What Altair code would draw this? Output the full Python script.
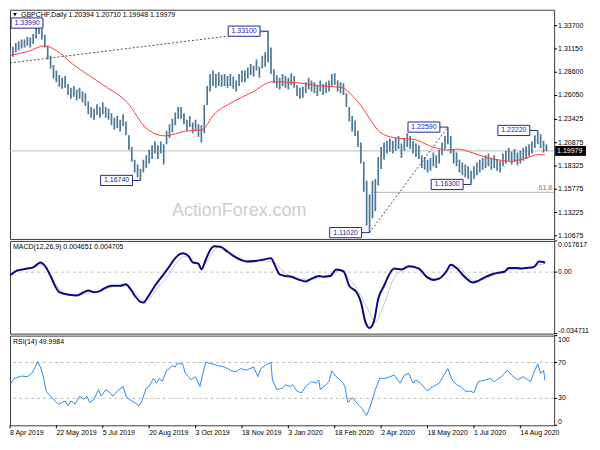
import altair as alt
import pandas as pd

# ---------------- text ----------------
symbol_title = "GBPCHF,Daily  1.20394 1.20710 1.19948 1.19979"
macd_title = "MACD(12,26,9) 0.004651 0.004705"
rsi_title = "RSI(14) 49.9984"
watermark = "ActionForex.com"

# ---------------- price data (one bar every 2 sessions) ----------------
bar_step = 2
bar_high = [
    1.312, 1.314, 1.318, 1.320, 1.322, 1.322, 1.325, 1.324, 1.328, 1.336,
    1.3399, 1.334, 1.327, 1.315, 1.304, 1.294, 1.288, 1.283, 1.280, 1.282,
    1.273, 1.269, 1.271, 1.267, 1.269, 1.265, 1.263, 1.254, 1.248, 1.246,
    1.251, 1.248, 1.253, 1.248, 1.246, 1.241, 1.236, 1.238, 1.234, 1.240,
    1.232, 1.217, 1.204, 1.190, 1.185, 1.180, 1.190, 1.195, 1.201, 1.206,
    1.210, 1.206, 1.210, 1.207, 1.222, 1.229, 1.235, 1.242, 1.248, 1.248,
    1.241, 1.234, 1.238, 1.231, 1.234, 1.229, 1.228, 1.250, 1.271, 1.284,
    1.288, 1.284, 1.286, 1.283, 1.284, 1.282, 1.284, 1.281, 1.277, 1.284,
    1.288, 1.288, 1.291, 1.295, 1.293, 1.300, 1.292, 1.304, 1.308, 1.331,
    1.313, 1.289, 1.283, 1.280, 1.284, 1.282, 1.280, 1.285, 1.282, 1.272,
    1.269, 1.270, 1.275, 1.280, 1.277, 1.275, 1.272, 1.277, 1.273, 1.275,
    1.277, 1.284, 1.285, 1.277, 1.275, 1.274, 1.263, 1.248, 1.238, 1.233,
    1.222, 1.209, 1.188, 1.167, 1.152, 1.167, 1.169, 1.193, 1.204, 1.209,
    1.211, 1.213, 1.211, 1.214, 1.216, 1.208, 1.214, 1.219, 1.216, 1.211,
    1.208, 1.206, 1.195, 1.193, 1.190, 1.192, 1.198, 1.195, 1.201, 1.209,
    1.216, 1.2259, 1.216, 1.202, 1.198, 1.190, 1.187, 1.185, 1.183, 1.178,
    1.183, 1.187, 1.190, 1.192, 1.195, 1.197, 1.192, 1.195, 1.191, 1.189,
    1.197, 1.200, 1.203, 1.199, 1.202, 1.198, 1.200, 1.203, 1.205, 1.207,
    1.210, 1.217, 1.2222, 1.218, 1.211, 1.2071,
]
bar_low = [
    1.301, 1.303, 1.308, 1.310, 1.312, 1.313, 1.315, 1.313, 1.317, 1.323,
    1.328, 1.322, 1.313, 1.300, 1.290, 1.279, 1.275, 1.270, 1.268, 1.269,
    1.261, 1.257, 1.259, 1.255, 1.257, 1.253, 1.249, 1.240, 1.236, 1.234,
    1.239, 1.236, 1.240, 1.236, 1.234, 1.228, 1.223, 1.225, 1.221, 1.227,
    1.217, 1.201, 1.188, 1.176, 1.171, 1.1674, 1.176, 1.181, 1.186, 1.191,
    1.197, 1.191, 1.197, 1.185, 1.207, 1.214, 1.220, 1.228, 1.235, 1.235,
    1.229, 1.222, 1.226, 1.219, 1.222, 1.215, 1.209, 1.219, 1.250, 1.265,
    1.271, 1.269, 1.271, 1.270, 1.271, 1.269, 1.271, 1.268, 1.265, 1.271,
    1.275, 1.275, 1.279, 1.283, 1.281, 1.288, 1.280, 1.290, 1.292, 1.297,
    1.284, 1.274, 1.269, 1.267, 1.271, 1.269, 1.267, 1.272, 1.269, 1.260,
    1.257, 1.258, 1.263, 1.267, 1.265, 1.263, 1.260, 1.265, 1.261, 1.263,
    1.265, 1.271, 1.272, 1.265, 1.263, 1.261, 1.248, 1.232, 1.221, 1.216,
    1.204, 1.186, 1.155, 1.118, 1.1102, 1.126, 1.134, 1.162, 1.180, 1.190,
    1.197, 1.199, 1.197, 1.200, 1.202, 1.192, 1.200, 1.204, 1.202, 1.197,
    1.193, 1.191, 1.181, 1.179, 1.176, 1.178, 1.183, 1.181, 1.186, 1.195,
    1.202, 1.207, 1.197, 1.186, 1.183, 1.176, 1.173, 1.171, 1.169, 1.163,
    1.169, 1.173, 1.176, 1.179, 1.181, 1.183, 1.179, 1.181, 1.178, 1.176,
    1.183, 1.186, 1.189, 1.185, 1.188, 1.184, 1.186, 1.189, 1.191, 1.194,
    1.197, 1.203, 1.207, 1.203, 1.198, 1.1995,
]

# moving average (red)
ma_idx = [0, 12, 24, 32, 43, 65, 81, 94, 107, 121, 132, 141, 154, 167, 181, 199, 212,
          229, 235, 242, 249, 255, 265, 279, 292, 302, 309, 319, 329, 339, 345, 355, 364, 369]
ma_val = [1.3045, 1.3087, 1.3149, 1.3097, 1.2952, 1.2713, 1.2526, 1.2246, 1.2163, 1.2215,
          1.2226, 1.2402, 1.2537, 1.2641, 1.2755, 1.2744, 1.2713, 1.2692, 1.2620, 1.2495,
          1.2329, 1.2205, 1.2143, 1.2122, 1.2039, 1.2008, 1.2018, 1.1977, 1.1925, 1.1894,
          1.1883, 1.1915, 1.1956, 1.1956]

last_price = 1.19979
last_label = "1.19979"
fib_level = 1.1544
fib_start = 251
fib_label = "61.8"

trend_id = ["a", "a", "b", "b"]
trend_idx = [0, 178, 248, 302]
trend_val = [1.2962, 1.3310, 1.1102, 1.2259]

# swing labels (the first one sits at the left edge)
label_text = ["1.33990", "1.33100", "1.16740", "1.22590", "1.22220", "1.16300", "1.11020"]
label_idx = [20, 178, 90, 302, 364, 318, 248]
label_val = [1.3399, 1.3310, 1.1674, 1.2259, 1.2222, 1.1630, 1.1102]

# ---------------- MACD ----------------
macd_idx = [0, 5, 12, 16, 21, 24, 28, 31, 34, 41, 46, 51, 54, 58, 61, 65, 70, 76, 80, 83,
            86, 90, 92, 95, 100, 105, 110, 114, 119, 123, 126, 130, 132, 135, 138, 141, 145,
            150, 154, 159, 163, 170, 174, 180, 183, 186, 190, 194, 199, 204, 208, 213, 216,
            221, 225, 230, 234, 239, 242, 245, 248, 251, 254, 258, 261, 265, 270, 275, 282,
            288, 292, 296, 301, 304, 308, 312, 315, 319, 323, 328, 332, 336, 341, 344, 350,
            352, 356, 361, 365, 368, 369]
macd_val = [-0.0018, 0.0009, 0.0020, 0.0027, 0.0055, 0.0037, -0.0022, -0.0077, -0.0113, -0.0128,
            -0.0132, -0.0113, -0.0104, -0.0113, -0.0110, -0.0092, -0.0077, -0.0077, -0.0068, -0.0095,
            -0.0132, -0.0168, -0.0172, -0.0141, -0.0077, -0.0022, 0.0033, 0.0079, 0.0106, 0.0092,
            0.0055, 0.0048, 0.0015, 0.0070, 0.0124, 0.0146, 0.0143, 0.0115, 0.0092, 0.0070,
            0.0060, 0.0064, 0.0070, 0.0079, 0.0033, -0.0013, -0.0022, -0.0026, -0.0042, -0.0053,
            -0.0037, -0.0022, -0.0026, -0.0022, 0.0015, 0.0005, -0.0077, -0.0113, -0.0168, -0.0278,
            -0.0315, -0.0278, -0.0150, -0.0077, -0.0022, 0.0020, 0.0015, 0.0033, 0.0020, -0.0031,
            -0.0044, -0.0037, 0.0005, 0.0042, 0.0024, -0.0013, -0.0037, -0.0059, -0.0049, -0.0027,
            -0.0013, -0.0004, 0.0002, 0.0024, 0.0024, 0.0020, 0.0024, 0.0027, 0.0060, 0.0057,
            0.0051]
sig_idx = [0, 8, 16, 22, 26, 31, 35, 42, 49, 56, 65, 74, 81, 86, 92, 96, 101, 108, 114, 121,
           126, 131, 135, 140, 144, 150, 156, 164, 174, 183, 188, 194, 199, 201, 208, 216, 223,
           228, 232, 238, 243, 249, 252, 256, 261, 265, 272, 279, 285, 292, 299, 305, 310, 316,
           321, 328, 336, 345, 354, 363, 369]
sig_val = [-0.0013, 0.0015, 0.0029, 0.0042, 0.0005, -0.0059, -0.0104, -0.0132, -0.0128, -0.0113,
           -0.0099, -0.0077, -0.0077, -0.0113, -0.0159, -0.0150, -0.0095, -0.0031, 0.0042, 0.0088,
           0.0073, 0.0033, 0.0051, 0.0115, 0.0143, 0.0124, 0.0088, 0.0066, 0.0064, 0.0051,
           0.0005, -0.0022, -0.0031, -0.0040, -0.0040, -0.0026, -0.0004, 0.0011, -0.0022, -0.0077,
           -0.0150, -0.0242, -0.0282, -0.0223, -0.0113, -0.0031, 0.0015, 0.0029, -0.0004, -0.0037,
           -0.0022, 0.0024, 0.0024, -0.0031, -0.0049, -0.0037, -0.0009, 0.0015, 0.0020, 0.0037,
           0.0048]

# ---------------- RSI ----------------
rsi_idx = [0, 3, 8, 12, 15, 18, 19, 21, 23, 25, 29, 32, 34, 38, 40, 42, 45, 48, 51, 53,
           55, 58, 61, 63, 66, 69, 71, 74, 78, 80, 82, 84, 86, 89, 91, 94, 96, 99, 101, 103,
           105, 108, 110, 112, 114, 115, 119, 121, 123, 125, 128, 131, 133, 135, 139, 143, 148,
           152, 156, 159, 163, 168, 171, 173, 176, 180, 181, 184, 188, 190, 193, 195, 198, 201,
           204, 208, 211, 213, 214, 218, 220, 222, 225, 229, 231, 233, 236, 240, 243, 246, 249,
           252, 255, 259, 262, 265, 269, 272, 275, 278, 280, 283, 288, 290, 292, 296, 300, 302,
           305, 308, 311, 314, 318, 320, 323, 328, 331, 334, 339, 343, 346, 350, 354, 359, 362,
           364, 366, 368, 369]
rsi_val = [45.2, 52.4, 54.9, 54.2, 57.8, 66.8, 71.1, 65.0, 54.2, 38.0,
           30.8, 25.4, 23.6, 27.2, 21.8, 27.2, 23.6, 32.6, 29.0, 32.6,
           25.4, 29.0, 39.8, 32.6, 39.8, 36.2, 32.6, 38.0, 43.4, 32.6,
           29.0, 27.2, 25.4, 21.8, 27.2, 41.6, 43.4, 52.4, 47.0, 52.4,
           48.8, 61.4, 63.2, 66.8, 65.0, 68.6, 68.6, 57.8, 54.2, 50.6,
           54.2, 43.4, 57.8, 70.4, 68.6, 66.8, 65.0, 61.4, 59.6, 63.2,
           61.4, 65.0, 54.2, 63.2, 66.8, 70.4, 50.6, 39.8, 41.6, 45.2,
           43.4, 45.2, 38.0, 36.2, 43.4, 48.8, 47.0, 50.6, 39.8, 45.2,
           48.8, 60.7, 54.2, 48.8, 43.4, 25.4, 30.8, 23.6, 18.2, 11.0,
           23.6, 39.8, 52.4, 52.4, 54.2, 56.0, 47.0, 56.0, 57.8, 47.0,
           50.6, 47.0, 38.0, 41.6, 43.4, 47.0, 57.8, 63.2, 50.6, 45.2,
           43.4, 38.0, 38.0, 36.2, 48.8, 50.6, 52.4, 48.8, 54.2, 61.4,
           56.0, 50.6, 54.2, 48.8, 61.4, 68.6, 57.8, 61.4, 50.0]

# ---------------- axis ticks ----------------
price_ticks = [1.33700, 1.31150, 1.28600, 1.26050, 1.23425, 1.20875, 1.18325, 1.15775, 1.13225, 1.10675]
macd_ticks = [0.017617, 0.0, -0.034711]
macd_tick_text = ["0.017617", "0.00", "-0.034711"]
rsi_levels = [70, 30]
rsi_level_text = ["70", "30"]
rsi_top_text = "100"
rsi_bottom_text = "0"
date_ticks = [0, 32, 64, 96, 128, 160, 192, 224, 256, 288, 320, 352]
date_labels = ["8 Apr 2019", "22 May 2019", "5 Jul 2019", "20 Aug 2019", "3 Oct 2019",
               "18 Nov 2019", "3 Jan 2020", "18 Feb 2020", "2 Apr 2020", "18 May 2020",
               "1 Jul 2020", "14 Aug 2020"]

# ---------------- styling ----------------
W = 546
H_MAIN, H_MACD, H_RSI = 230, 93, 90
FONT = "Liberation Sans"
FS = 7
BAR_COLOR = "#4a7896"
MA_COLOR = "#ff3b3b"
LBL_COLOR = "#23239c"
GRID_GRAY = "#bdbdbd"

xs = alt.Scale(domain=[0, 375.3], nice=False, zero=False)
ys_price = alt.Scale(domain=[1.1033, 1.3545], nice=False, zero=False)
ys_macd = alt.Scale(domain=[-0.034711, 0.017617], nice=False, zero=False)
ys_rsi = alt.Scale(domain=[0, 100], nice=False, zero=False)

one = pd.DataFrame({"k": [0]})


def X():
    return alt.X("i:Q", scale=xs, axis=None)


def Yq(scale, f="v"):
    return alt.Y(f + ":Q", scale=scale, axis=None)


def y_labels(vals, texts, scale, baseline="middle"):
    df = pd.DataFrame({"v": vals, "t": texts})
    ticks = alt.Chart(df).mark_rule(color="black", strokeWidth=1).encode(
        x=alt.value(W), x2=alt.value(W + 3), y=Yq(scale))
    labs = alt.Chart(df).mark_text(align="left", baseline=baseline, font=FONT,
                                   fontSize=FS, color="black").encode(
        x=alt.value(W + 4), y=Yq(scale), text="t:N")
    return [ticks, labs]


def edge_label(txt, ypix, baseline):
    tick = alt.Chart(one).mark_rule(color="black", strokeWidth=1).encode(
        x=alt.value(W), x2=alt.value(W + 3), y=alt.value(ypix))
    lab = alt.Chart(one).mark_text(align="left", baseline=baseline, font=FONT, fontSize=FS,
                                   color="black").encode(
        x=alt.value(W + 4), y=alt.value(ypix), text=alt.value(txt))
    return [tick, lab]


def panel_title(txt):
    return alt.Chart(one).mark_text(align="left", baseline="middle", font=FONT, fontSize=FS,
                                    color="black").encode(
        x=alt.value(3), y=alt.value(6), text=alt.value(txt))


# ---------------- main panel ----------------
bars_df = pd.DataFrame({"i": [bar_step * k for k in range(len(bar_high))],
                        "high": bar_high, "low": bar_low})
ma_df = pd.DataFrame({"i": ma_idx, "v": ma_val})
trend_df = pd.DataFrame({"line": trend_id, "i": trend_idx, "v": trend_val})
lab_df = pd.DataFrame({"t": label_text, "i": label_idx, "v": label_val})
edge_lab = lab_df.iloc[:1]
lab_rest = lab_df.iloc[1:]
last_df = pd.DataFrame({"v": [last_price], "t": [last_label]})
fib_df = pd.DataFrame({"i": [fib_start], "v": [fib_level], "t": [fib_label]})
YP = lambda f="v": Yq(ys_price, f)

last_line = alt.Chart(last_df).mark_rule(color=GRID_GRAY, strokeWidth=1).encode(y=YP())
fib_line = alt.Chart(fib_df).mark_rule(color="#b0b0b0", strokeWidth=1).encode(
    x=X(), x2=alt.value(W), y=YP())
fib_text = alt.Chart(fib_df).mark_text(align="right", baseline="bottom", dx=-2, dy=-1,
                                       font=FONT, fontSize=FS, color="#7a7a7a").encode(
    x=alt.value(W), y=YP(), text="t:N")
wm = alt.Chart(one).mark_text(font=FONT, fontSize=18, color="#cdcdcd").encode(
    x=alt.value(230), y=alt.value(202), text=alt.value(watermark))
bars = alt.Chart(bars_df).mark_rule(color=BAR_COLOR, strokeWidth=1.7, clip=True).encode(
    x=X(), y=YP("low"), y2="high:Q")
ma = alt.Chart(ma_df).mark_line(color=MA_COLOR, strokeWidth=1, interpolate="monotone",
                                clip=True).encode(x=X(), y=YP())
trend = alt.Chart(trend_df).mark_line(color="#505050", strokeWidth=1, strokeDash=[2, 2],
                                      clip=True).encode(x=X(), y=YP(), detail="line:N")

BOX = "M-1,-0.32L1,-0.32L1,0.32L-1,0.32Z"


def swing_labels(df, off):
    conn = alt.Chart(df).mark_rule(color=LBL_COLOR, strokeWidth=1, x2Offset=-8, clip=True).encode(
        x=X(), x2="i:Q", y=YP())
    box = alt.Chart(df).mark_point(shape=BOX, size=1024, filled=True, fill="white",
                                   stroke=LBL_COLOR, strokeWidth=1, opacity=1,
                                   xOffset=off).encode(x=X(), y=YP())
    txt = alt.Chart(df).mark_text(font=FONT, fontSize=FS, color=LBL_COLOR,
                                  xOffset=off).encode(x=X(), y=YP(), text="t:N")
    return [conn, box, txt]


pbox = alt.Chart(last_df).mark_rule(color="black", strokeWidth=10, strokeCap="butt").encode(
    x=alt.value(W + 1), x2=alt.value(W + 32), y=YP())
ptext = alt.Chart(last_df).mark_text(align="left", font=FONT, fontSize=FS, color="white").encode(
    x=alt.value(W + 3), y=YP(), text="t:N")
tri = alt.Chart(one).mark_point(shape="triangle-down", filled=True, color="black", size=14,
                                opacity=1).encode(x=alt.value(5), y=alt.value(5))
title = alt.Chart(one).mark_text(align="left", baseline="middle", font=FONT, fontSize=FS,
                                 color="black").encode(
    x=alt.value(11), y=alt.value(5), text=alt.value(symbol_title))

price_text = ["%.5f" % v for v in price_ticks]
main = alt.layer(
    last_line, fib_line, fib_text, wm, bars, ma, trend,
    *swing_labels(lab_rest, -24), *swing_labels(edge_lab, -12),
    *y_labels(price_ticks, price_text, ys_price),
    pbox, ptext, tri, title,
).properties(width=W, height=H_MAIN)

# ---------------- MACD panel ----------------
macd_df = pd.DataFrame({"i": macd_idx, "v": macd_val})
sig_df = pd.DataFrame({"i": sig_idx, "v": sig_val})
zero = alt.Chart(pd.DataFrame({"v": [0.0]})).mark_rule(color=GRID_GRAY, strokeDash=[3, 3]).encode(
    y=Yq(ys_macd))
sig = alt.Chart(sig_df).mark_line(color="#c4c4c4", strokeWidth=1, interpolate="monotone",
                                  clip=True).encode(x=X(), y=Yq(ys_macd))
macd = alt.Chart(macd_df).mark_line(color="#0a0a82", strokeWidth=2, interpolate="monotone",
                                    clip=True).encode(x=X(), y=Yq(ys_macd))
macd_panel = alt.layer(
    zero, sig, macd, panel_title(macd_title),
    *y_labels(macd_ticks[:1], macd_tick_text[:1], ys_macd, "top"),
    *y_labels(macd_ticks[1:2], macd_tick_text[1:2], ys_macd),
    *y_labels(macd_ticks[2:], macd_tick_text[2:], ys_macd, "bottom"),
).properties(width=W, height=H_MACD)

# ---------------- RSI panel ----------------
rsi_df = pd.DataFrame({"i": rsi_idx, "v": rsi_val})
lv = alt.Chart(pd.DataFrame({"v": rsi_levels})).mark_rule(color=GRID_GRAY, strokeDash=[3, 3]).encode(
    y=Yq(ys_rsi))
rsi = alt.Chart(rsi_df).mark_line(color="#2a8cf0", strokeWidth=1, clip=True).encode(
    x=X(), y=Yq(ys_rsi))
date_df = pd.DataFrame({"i": date_ticks, "t": date_labels})
date_ticks_m = alt.Chart(date_df).mark_rule(color="black", strokeWidth=1).encode(
    x=X(), y=alt.value(H_RSI), y2=alt.value(H_RSI + 3))
date_text = alt.Chart(date_df).mark_text(align="left", baseline="top", font=FONT, fontSize=FS,
                                         color="black").encode(
    x=X(), y=alt.value(H_RSI + 4), text="t:N")
rsi_panel = alt.layer(
    lv, rsi, panel_title(rsi_title),
    *y_labels(rsi_levels, rsi_level_text, ys_rsi),
    *edge_label(rsi_top_text, 0, "top"),
    *edge_label(rsi_bottom_text, H_RSI, "bottom"),
    date_ticks_m, date_text,
).properties(width=W, height=H_RSI)

chart = alt.vconcat(main, macd_panel, rsi_panel, spacing=2, bounds="flush",
                    padding={"left": 0, "top": 0, "right": 0, "bottom": 0}) \
    .resolve_scale(x="independent", y="independent") \
    .configure_view(stroke="#3c3c3c", strokeWidth=1)

chart.save("out.html", embed_options={"renderer": "svg", "actions": False})
